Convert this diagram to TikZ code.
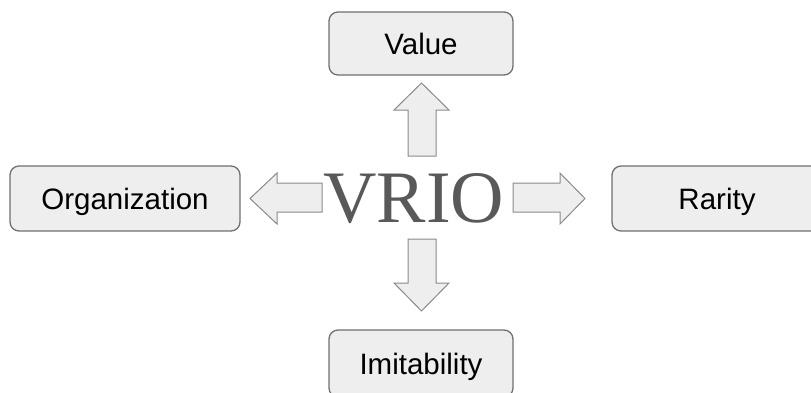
\documentclass[tikz,border=0pt]{standalone}
\usepackage{fontspec}
\setmainfont{Liberation Sans}
\newfontfamily\vriofont{Liberation Serif}
\definecolor{boxfill}{HTML}{EEEEEE}
\definecolor{boxline}{HTML}{707070}
\definecolor{arrline}{HTML}{8A8A8A}
\definecolor{vriogray}{HTML}{595959}
\tikzset{
  factorbox/.style={draw=boxline, fill=boxfill, line width=1.3pt, rounded corners=9pt,
    minimum height=63pt, inner sep=0pt, text height=21pt, text depth=0pt,
    font=\fontsize{29.5}{34}\selectfont, text=black},
  blockarrow/.style={draw=arrline, fill=boxfill, line width=1pt, line join=miter},
}
\begin{document}
\begin{tikzpicture}[x=1pt,y=-1pt]
\useasboundingbox (0,0) rectangle (811,392);
\begin{scope}
\clip (0,0) rectangle (811,392);
\node[factorbox, minimum width=184pt] (value) at (421,43.5) {Value};
\node[factorbox, minimum width=230pt, minimum height=65pt] (org) at (125,198.5) {Organization};
\node[factorbox, minimum width=210pt, minimum height=65pt] (rarity) at (717,198.5) {Rarity};
\node[factorbox, minimum width=184pt, minimum height=67pt] (imit) at (421,363.5) {Imitability};
\end{scope}
\node[anchor=base, inner sep=0pt, text=vriogray, font=\vriofont\fontsize{74}{80}\selectfont] (vrio) at (414,222) {VRIO};
% block arrows
\draw[blockarrow] (408,156) -- (408,110) -- (394,110) -- (421.5,83) -- (449,110) -- (436,110) -- (436,156) -- cycle;
\draw[blockarrow] (408,239) -- (436,239) -- (436,283) -- (449,283) -- (421.5,311) -- (394,283) -- (408,283) -- cycle;
\draw[blockarrow] (322,183) -- (277,183) -- (277,173) -- (250,198.5) -- (277,224) -- (277,212) -- (322,212) -- cycle;
\draw[blockarrow] (513,183) -- (560,183) -- (560,173) -- (585,198.5) -- (560,224) -- (560,212) -- (513,212) -- cycle;
\end{tikzpicture}
\end{document}
